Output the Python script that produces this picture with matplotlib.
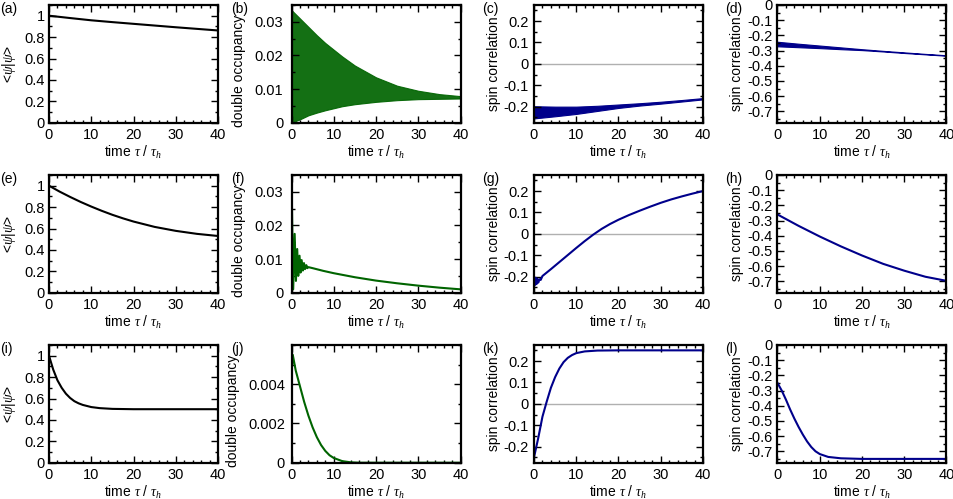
#! /usr/bin/env python3

'''
Norm, double occupancy and spin correlations versus time, 3 x 4 panels.
'''

import matplotlib
matplotlib.use('Agg')
import matplotlib.pyplot as plt
from matplotlib.ticker import FuncFormatter, MultipleLocator


# --- data ---------------------------------------------------------------

# (a) / (e) / (i): norm <psi|psi>
t_a = [0, 5, 10, 15, 20, 25, 30, 35, 40]
norm_a = [1.0, 0.978, 0.957, 0.94, 0.924, 0.908, 0.892, 0.877, 0.862]

t_e = [0, 2.5, 5, 7.5, 10, 12.5, 15, 17.5, 20, 25, 30, 35, 40]
norm_e = [1.0, 0.945, 0.895, 0.848, 0.805, 0.765, 0.728, 0.695, 0.665,
          0.615, 0.578, 0.55, 0.53]

t_i = [0, 1, 2, 3, 4, 5, 6, 7, 8, 10, 12, 15, 20, 40]
norm_i = [1.0, 0.87, 0.77, 0.70, 0.645, 0.605, 0.575, 0.555, 0.54, 0.52,
          0.51, 0.503, 0.5, 0.5]

# (b): double occupancy, fast oscillation -> upper / lower envelope
t_b = [0, 2, 4, 6, 8, 10, 12, 15, 20, 25, 30, 35, 40]
docc_b_hi = [0.0335, 0.031, 0.0285, 0.026, 0.0237, 0.0217, 0.0197, 0.017,
             0.0135, 0.011, 0.0095, 0.0085, 0.0079]
docc_b_lo = [0.0, 0.001, 0.0022, 0.003, 0.0037, 0.0043, 0.0049, 0.0055,
             0.0062, 0.0067, 0.007, 0.0071, 0.0072]

# (f): double occupancy, a few spikes then a smooth decay
t_f = [0, 0.1, 0.4, 0.75, 1.05, 1.35, 1.6, 1.9, 2.15, 2.4, 2.7, 2.95, 3.2,
       3.5, 3.75, 4, 5, 7.5, 10, 15, 20, 25, 30, 35, 40]
docc_f = [0.02, 0.0265, 0.001, 0.0175, 0.0035, 0.013, 0.005, 0.011, 0.006,
          0.0097, 0.0066, 0.0088, 0.007, 0.0082, 0.0073, 0.0076, 0.0073,
          0.0065, 0.0058, 0.0046, 0.0036, 0.0028, 0.0021, 0.0015, 0.001]

# (j): double occupancy, smooth decay
t_j = [0, 0.3, 1, 2, 3, 4, 5, 6, 7, 8, 9, 10, 12, 14, 16, 20, 40]
docc_j = [0.0045, 0.0055, 0.0047, 0.0039, 0.0031, 0.0024, 0.0018, 0.0013,
          0.0009, 0.0006, 0.00038, 0.00024, 0.00008, 0.00002, 0.0, 0.0, 0.0]

# (c): nearest-neighbour spin correlation, oscillating band
t_c = [0, 5, 10, 15, 20, 25, 30, 35, 40]
spin_c_hi = [-0.198, -0.2, -0.2, -0.196, -0.19, -0.184, -0.177, -0.169,
             -0.16]
spin_c_lo = [-0.255, -0.245, -0.234, -0.22, -0.206, -0.195, -0.186, -0.176,
             -0.166]

# (g): spin correlation
t_g = [0, 0.2, 0.4, 0.6, 0.8, 1.0, 1.3, 1.6, 2, 4, 6, 8, 10, 12, 14, 16,
       18, 20, 22.5, 25, 27.5, 30, 32.5, 35, 37.5, 40]
spin_g = [-0.22, -0.24, -0.205, -0.235, -0.21, -0.228, -0.212, -0.215,
          -0.197, -0.165, -0.132, -0.099, -0.066, -0.034, -0.004, 0.023,
          0.046, 0.066, 0.088, 0.108, 0.127, 0.145, 0.161, 0.175, 0.188,
          0.2]

# (k): spin correlation
t_k = [0, 1, 2, 3, 4, 5, 6, 7, 8, 9, 10, 12, 15, 20, 40]
spin_k = [-0.25, -0.16, -0.06, 0.01, 0.075, 0.125, 0.165, 0.195, 0.215,
          0.228, 0.237, 0.245, 0.249, 0.25, 0.25]

# (d): second spin correlation, thin band early on
t_d = [0, 5, 10, 15, 20, 25, 30, 35, 40]
spin_d_hi = [-0.242, -0.255, -0.267, -0.279, -0.291, -0.302, -0.312,
             -0.322, -0.331]
spin_d_lo = [-0.272, -0.278, -0.284, -0.291, -0.297, -0.306, -0.316,
             -0.325, -0.334]

# (h): second spin correlation
t_h = [0, 5, 10, 15, 20, 25, 30, 35, 40]
spin_h = [-0.26, -0.335, -0.405, -0.47, -0.53, -0.585, -0.63, -0.67, -0.697]

# (l): second spin correlation
t_l = [0, 1, 2, 3, 4, 5, 6, 7, 8, 9, 10, 12, 15, 20, 40]
spin_l = [-0.25, -0.3, -0.36, -0.425, -0.485, -0.54, -0.59, -0.635, -0.672,
          -0.7, -0.718, -0.737, -0.746, -0.75, -0.75]

panel_labels = ['(a)', '(b)', '(c)', '(d)', '(e)', '(f)', '(g)', '(h)',
                '(i)', '(j)', '(k)', '(l)']

x_ticks = [0, 10, 20, 30, 40]
norm_ticks = [0, 0.2, 0.4, 0.6, 0.8, 1]
docc_ticks = [0, 0.01, 0.02, 0.03]
docc_j_ticks = [0, 0.002, 0.004]
spin1_ticks = [-0.2, -0.1, 0, 0.1, 0.2]
spin2_ticks = [0, -0.1, -0.2, -0.3, -0.4, -0.5, -0.6, -0.7]

x_label = r'time $\tau$ / $\tau_h$'
norm_label = r'<$\psi$|$\psi$>'
docc_label = 'double occupancy'
spin_label = 'spin correlation'

black = 'black'
green = '#006400'
blue = '#00008b'


# --- layout -------------------------------------------------------------

W, H = 954, 499
col_left = [49, 291.5, 534, 777.5]
row_top = [5, 175, 345]
ax_w, ax_h = 169, 117.7
label_x = [0, 231, 482, 725]
# gnuplot-like gaps between axis, tick labels and y label (points)
tick_pad = [2.9, 6.0, 3.6, 3.6]
ylab_pad = [4.5, 5.8, 2.0, 2.0]

plt.rcParams['font.family'] = ['Liberation Sans', 'DejaVu Sans']
plt.rcParams['mathtext.fontset'] = 'custom'
plt.rcParams['mathtext.it'] = 'Liberation Serif:italic'
plt.rcParams['mathtext.rm'] = 'Liberation Sans'
plt.rcParams['font.size'] = 10


def g_fmt(v, pos):
    return f'{v:g}'


def style(ax, col, yticks, ylim, ylabel, yminor, label_y=0.5,
          tpad=None, lpad=None):
    ax.set_xlim(0, 40)
    ax.set_ylim(*ylim)
    ax.set_xticks(x_ticks)
    ax.set_yticks(yticks)
    ax.xaxis.set_minor_locator(MultipleLocator(2))
    ax.yaxis.set_minor_locator(MultipleLocator(yminor))
    ax.yaxis.set_major_formatter(FuncFormatter(g_fmt))
    ax.tick_params(which='both', direction='in', top=True, right=True,
                   width=1.0, labelsize=10.5)
    ax.tick_params(axis='x', pad=4)
    ax.tick_params(axis='y', pad=tick_pad[col] if tpad is None else tpad)
    ax.tick_params(which='major', length=5)
    ax.tick_params(which='minor', length=2.5)
    for s in ax.spines.values():
        s.set_linewidth(1.6)
    ax.set_xlabel(x_label, labelpad=1)
    ax.set_ylabel(ylabel, y=label_y,
                  labelpad=ylab_pad[col] if lpad is None else lpad)


def main():
    fig = plt.figure(figsize=(W / 100, H / 100), dpi=100)
    axs = []
    for r in range(3):
        for c in range(4):
            rect = [col_left[c] / W, 1 - (row_top[r] + ax_h) / H,
                    ax_w / W, ax_h / H]
            axs.append(fig.add_axes(rect))

    lw = 1.5
    # column 1: norm
    for ax, t, v in ((axs[0], t_a, norm_a), (axs[4], t_e, norm_e),
                     (axs[8], t_i, norm_i)):
        ax.plot(t, v, color=black, lw=lw)
        style(ax, 0, norm_ticks, (0, 1.1), norm_label, 0.1)

    # column 2: double occupancy
    axs[1].fill_between(t_b, docc_b_lo, docc_b_hi, color=green, lw=0.8,
                        alpha=0.92)
    style(axs[1], 1, docc_ticks, (0, 0.035), docc_label, 0.005, 0.44)
    axs[5].plot(t_f, docc_f, color=green, lw=lw)
    style(axs[5], 1, docc_ticks, (0, 0.035), docc_label, 0.005, 0.44)
    axs[9].plot(t_j, docc_j, color=green, lw=lw)
    style(axs[9], 1, docc_j_ticks, (0, 0.006), docc_label, 0.001, 0.44,
          tpad=4.8, lpad=5.8)

    # column 3: spin correlation around zero
    for ax in (axs[2], axs[6], axs[10]):
        ax.axhline(0, color='#b0b0b0', lw=1.0, zorder=1)
    axs[2].fill_between(t_c, spin_c_lo, spin_c_hi, color=blue, lw=0.8)
    axs[6].plot(t_g, spin_g, color=blue, lw=lw)
    axs[10].plot(t_k, spin_k, color=blue, lw=lw)
    for ax in (axs[2], axs[6], axs[10]):
        style(ax, 2, spin1_ticks, (-0.275, 0.275), spin_label, 0.05)

    # column 4: negative spin correlation
    axs[3].fill_between(t_d, spin_d_lo, spin_d_hi, color=blue, lw=0.8)
    axs[7].plot(t_h, spin_h, color=blue, lw=lw)
    axs[11].plot(t_l, spin_l, color=blue, lw=lw)
    for ax in (axs[3], axs[7], axs[11]):
        style(ax, 3, spin2_ticks, (-0.775, 0), spin_label, 0.05)

    for i, lab in enumerate(panel_labels):
        r, c = divmod(i, 4)
        fig.text(label_x[c] / W, 1 - (row_top[r] - 3) / H, lab,
                 ha='left', va='top', fontsize=10)

    fig.savefig('out.png', dpi=100)


if __name__ == '__main__':
    main()
